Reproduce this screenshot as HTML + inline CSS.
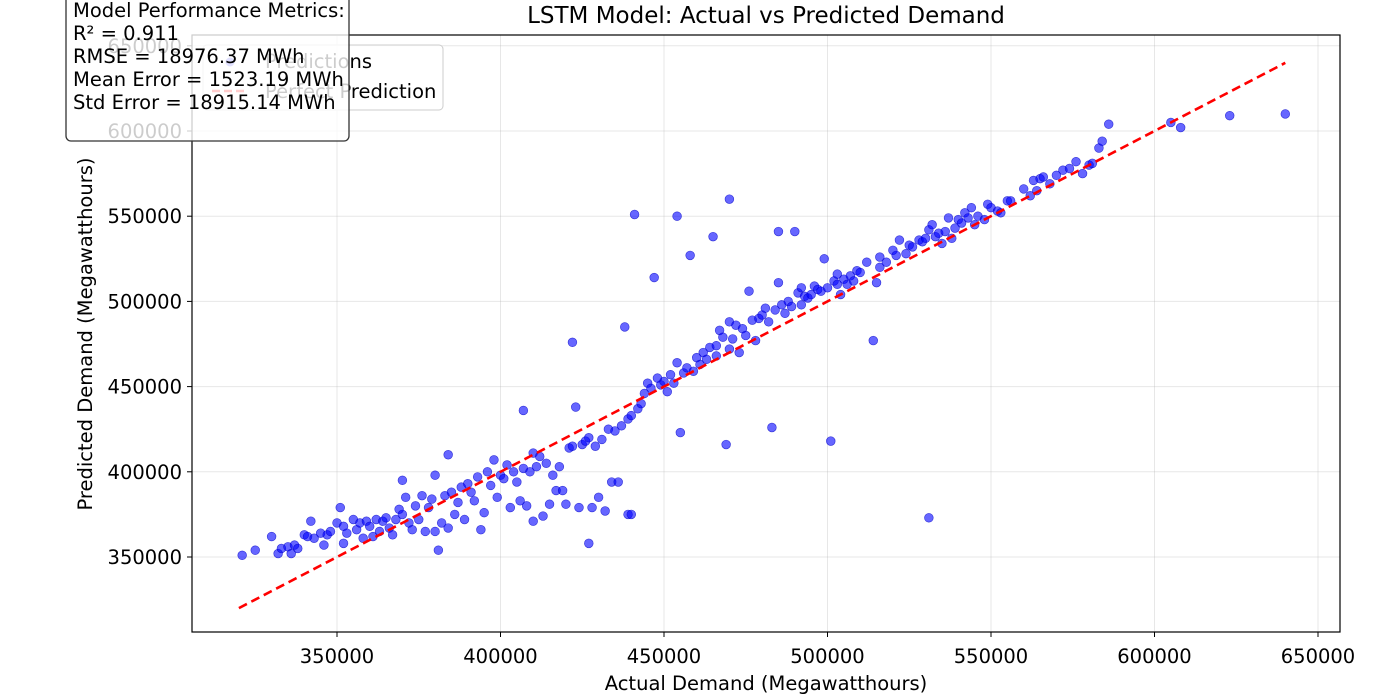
<!DOCTYPE html>
<html><head><meta charset="utf-8">
<style>
html,body{margin:0;padding:0;background:#fff;}
svg{display:block;font-family:"DejaVu Sans","Liberation Sans",sans-serif;}
</style></head>
<body>
<svg id="chart" width="1376" height="696" viewBox="0 0 1376 696">
<g id="grid"></g>
<g id="marks"></g>
<line id="perfect" stroke="#ff0000" stroke-width="2.6" stroke-dasharray="9,5"/>
<rect x="192" y="35" width="1148" height="597" fill="none" stroke="#000" stroke-width="1.2"/>
<g id="xticks"></g>
<g id="yticks"></g>
<text x="766" y="23" text-anchor="middle" font-size="23">LSTM Model: Actual vs Predicted Demand</text>
<text x="766" y="690" text-anchor="middle" font-size="19.5">Actual Demand (Megawatthours)</text>
<text x="92" y="334" text-anchor="middle" font-size="19.5" transform="rotate(-90 92 334)">Predicted Demand (Megawatthours)</text>
<g>
<rect x="203" y="45" width="240" height="65" rx="4" fill="#fff" fill-opacity="0.8" stroke="#ccc"/>
<circle cx="230" cy="62" r="4.5" fill="rgba(0,0,255,0.6)"/>
<text x="265" y="68" font-size="19.5">Predictions</text>
<line x1="212" y1="91" x2="248" y2="91" stroke="#ff0000" stroke-width="2.4" stroke-dasharray="8,4"/>
<text x="265" y="98" font-size="19.5">Perfect Prediction</text>
</g>
<g>
<rect x="66" y="-6" width="283" height="147" rx="5" fill="#fff" fill-opacity="0.8" stroke="#333" stroke-width="1.3"/>
<text x="73" y="17" font-size="19.5">Model Performance Metrics:</text>
<text x="73" y="40" font-size="19.5">R² = 0.911</text>
<text x="73" y="63" font-size="19.5">RMSE = 18976.37 MWh</text>
<text x="73" y="86" font-size="19.5">Mean Error = 1523.19 MWh</text>
<text x="73" y="109" font-size="19.5">Std Error = 18915.14 MWh</text>
</g>
</svg>
<script>
const xTicks=[350000,400000,450000,500000,550000,600000,650000];
const yTicks=[350000,400000,450000,500000,550000,600000,650000];
const perfectRange=[320000,640000];
const actual=[
321,325,330,332,333,335,336,337,338,340,
341,342,343,345,346,347,348,350,351,352,
352,353,355,356,357,358,359,360,361,362,
363,364,365,366,367,368,369,370,370,371,
372,373,374,375,376,377,378,379,380,380,
381,382,383,384,384,385,386,387,388,389,
390,391,392,393,394,395,396,397,398,399,
400,401,402,403,404,405,406,407,407,408,
409,410,410,411,412,413,414,415,416,417,
418,419,420,421,422,422,423,424,425,426,
427,427,428,429,430,431,432,433,434,435,
436,437,438,439,439,440,440,441,442,443,
444,445,446,447,448,449,450,451,452,453,
454,454,455,456,457,458,459,460,461,462,
463,464,465,466,466,467,468,469,470,470,
470,471,472,473,474,475,476,477,478,479,
480,481,482,483,484,485,485,486,487,488,
489,490,491,492,492,493,494,495,496,497,
498,499,500,501,502,503,503,504,505,506,
507,508,509,510,512,514,515,516,516,518,
520,521,522,524,525,526,528,529,530,531,
531,532,533,534,535,536,537,538,539,540,
541,542,543,544,545,546,548,549,550,552,
553,555,556,560,562,563,564,565,566,568,
570,572,574,576,578,580,581,583,584,586,
605,608,623,640];
const predicted=[
351,354,362,352,355,356,352,357,355,363,
362,371,361,364,357,363,365,370,379,368,
358,364,372,366,370,361,371,368,362,372,
365,371,373,367,363,372,378,375,395,385,
370,366,380,372,386,365,379,384,398,365,
354,370,386,410,367,388,375,382,391,372,
393,388,383,397,366,376,400,392,407,385,
398,396,404,379,400,394,383,436,402,380,
400,411,371,403,409,374,405,381,398,389,
403,389,381,414,476,415,438,379,416,418,
420,358,379,415,385,419,377,425,394,424,
394,427,485,375,431,375,433,551,437,440,
446,452,449,514,455,451,453,447,457,452,
550,464,423,458,461,527,459,467,463,470,
466,473,538,474,468,483,479,416,488,472,
560,478,486,470,484,480,506,489,477,490,
492,496,488,426,495,541,511,498,493,500,
497,541,505,498,508,503,502,504,509,507,
506,525,508,418,512,510,516,504,513,510,
515,512,518,517,523,477,511,520,526,523,
530,527,536,528,533,532,536,535,537,542,
373,545,538,540,534,541,549,537,543,548,
546,552,549,555,545,550,548,557,555,553,
552,559,559,566,562,571,565,572,573,569,
574,577,578,582,575,580,581,590,594,604,
605,602,609,610];
const X0=337,XS=163.5/50000,Y0=557,YS=85.2/50000;
function xs(v){return X0+(v-350000)*XS;}
function ys(v){return Y0-(v-350000)*YS;}
const NS="http://www.w3.org/2000/svg";
function mk(t,a){const e=document.createElementNS(NS,t);for(const k in a)e.setAttribute(k,a[k]);return e;}
const grid=document.getElementById('grid'),xg=document.getElementById('xticks'),yg=document.getElementById('yticks'),mg=document.getElementById('marks');
xTicks.forEach(v=>{const x=xs(v);
 const g=mk('line',{x1:x,x2:x,y1:35,y2:632,stroke:'#b0b0b0','stroke-opacity':0.3});
 
 grid.appendChild(g);
 const t=mk('line',{x1:x,x2:x,y1:632,y2:637,stroke:'#000'});
 
 xg.appendChild(t);
 const l=mk('text',{x:x,y:663,'text-anchor':'middle','font-size':19.5});l.textContent=v;
 
 xg.appendChild(l);});
yTicks.forEach(v=>{const y=ys(v);
 const g=mk('line',{x1:192,x2:1340,y1:y,y2:y,stroke:'#b0b0b0','stroke-opacity':0.3});
 
 grid.appendChild(g);
 const t=mk('line',{x1:187,x2:192,y1:y,y2:y,stroke:'#000'});
 
 yg.appendChild(t);
 const l=mk('text',{x:182,y:y+7,'text-anchor':'end','font-size':19.5});l.textContent=v;
 
 yg.appendChild(l);});
const n=Math.min(actual.length,predicted.length);
for(let i=0;i<n;i++){
 const c=mk('circle',{cx:xs(actual[i]*1000),cy:ys(predicted[i]*1000),r:4.4,fill:'rgba(0,0,255,0.6)',stroke:'rgba(0,0,200,0.7)','stroke-width':0.6});
 
 
 mg.appendChild(c);}
const pl=document.getElementById('perfect');
pl.setAttribute('x1',xs(perfectRange[0]));pl.setAttribute('y1',ys(perfectRange[0]));
pl.setAttribute('x2',xs(perfectRange[1]));pl.setAttribute('y2',ys(perfectRange[1]));
</script>
</body></html>
